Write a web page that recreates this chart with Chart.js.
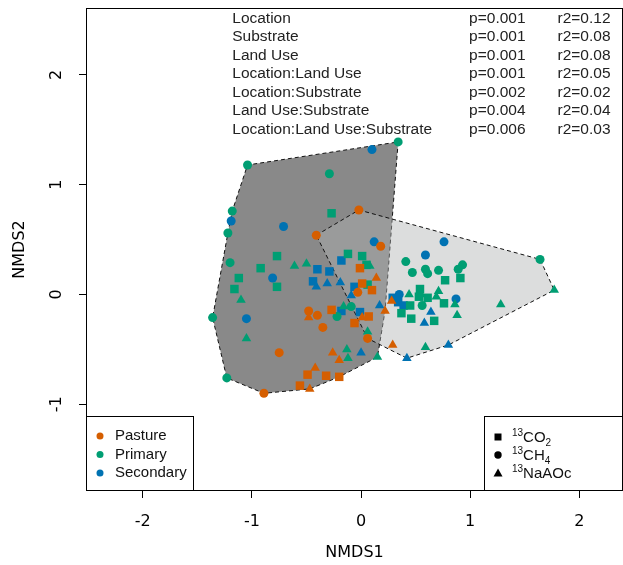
<!DOCTYPE html>
<html>
<head>
<meta charset="utf-8">
<script src="https://cdn.jsdelivr.net/npm/chart.js@4.4.0/dist/chart.umd.min.js"></script>
<style>
  html, body { margin: 0; padding: 0; background: #fff; }
</style>
</head>
<body>
<canvas id="nmdsChart" width="623" height="565"></canvas>
<script>
// axis ticks
const xTicks = [-2, -1, 0, 1, 2];
const yTicks = [-1, 0, 1, 2];

// groups
const landUses = ['Pasture', 'Primary', 'Secondary'];
const substrateLabels = [['13', 'CO', '2'], ['13', 'CH', '4'], ['13', 'NaAOc', '']];

// PERMANOVA results printed on the plot
const terms = ['Location', 'Substrate', 'Land Use', 'Location:Land Use',
  'Location:Substrate', 'Land Use:Substrate', 'Location:Land Use:Substrate'];
const pValues = ['0.001', '0.001', '0.001', '0.001', '0.002', '0.004', '0.006'];
const r2Values = ['0.12', '0.08', '0.08', '0.05', '0.02', '0.04', '0.03'];

// NMDS scores, [NMDS1, NMDS2]
const pastureCO2 = [[-0.01, 0.24], [0.01, 0.10], [0.10, 0.04], [-0.27, -0.14], [0.07, -0.20],
  [-0.06, -0.26], [-0.49, -0.73], [-0.32, -0.74], [-0.20, -0.75], [-0.56, -0.83]];
const pastureCH4 = [[-0.02, 0.77], [-0.41, 0.54], [0.18, 0.44], [-0.03, 0.02], [-0.48, -0.15],
  [-0.40, -0.19], [-0.35, -0.30], [0.06, -0.40], [-0.75, -0.53], [-0.89, -0.90]];
const pastureNaAOc = [[0.14, 0.15], [-0.48, -0.21], [0.01, -0.21], [0.22, -0.15], [-0.26, -0.53],
  [-0.20, -0.60], [-0.42, -0.67], [0.29, -0.46], [-0.47, -0.86], [0.28, -0.06]];
const primaryCO2 = [[-0.27, 0.74], [-0.77, 0.35], [-0.92, 0.24], [-0.12, 0.37], [0.01, 0.35],
  [0.05, 0.27], [-1.12, 0.15], [-1.16, 0.05], [-0.77, 0.07], [0.06, 0.09], [0.77, 0.13],
  [0.91, 0.15], [0.54, 0.05], [0.53, -0.02], [0.61, -0.03], [0.45, -0.10], [0.76, -0.08],
  [0.37, -0.17], [0.46, -0.22], [0.67, -0.24]];
const primaryCH4 = [[0.34, 1.39], [-1.04, 1.18], [-0.29, 1.10], [-1.18, 0.76], [-1.22, 0.56],
  [-1.20, 0.29], [-0.09, -0.11], [-1.36, -0.21], [-0.22, -0.20], [-1.23, -0.76], [0.41, 0.30],
  [0.47, 0.20], [0.59, 0.23], [0.61, 0.19], [0.71, 0.22], [0.93, 0.27], [0.89, 0.23],
  [1.64, 0.32], [0.56, -0.10]];
const primaryNaAOc = [[-0.61, 0.26], [-0.50, 0.28], [0.08, 0.26], [-1.10, -0.05], [-0.16, -0.11],
  [0.06, -0.34], [-1.05, -0.40], [-0.13, -0.50], [-0.12, -0.58], [0.15, -0.57], [1.77, 0.04],
  [0.44, 0.00], [0.55, 0.00], [0.71, 0.03], [0.69, -0.02], [0.86, -0.09], [0.88, -0.19],
  [1.28, -0.09], [0.59, -0.48]];
const secondaryCO2 = [[-0.40, 0.23], [-0.29, 0.21], [-0.18, 0.31], [-0.44, 0.12], [-0.06, 0.07],
  [-0.18, -0.15], [-0.01, -0.16], [0.29, -0.03], [0.34, -0.07], [0.39, -0.10]];
const secondaryCH4 = [[0.10, 1.32], [-1.19, 0.67], [-0.71, 0.62], [0.12, 0.48], [-0.81, 0.15],
  [-1.05, -0.22], [0.76, 0.48], [0.59, 0.36], [0.35, 0.00], [0.87, -0.04]];
const secondaryNaAOc = [[-0.41, 0.07], [-0.31, 0.10], [-0.19, 0.11], [-0.09, -0.01], [0.17, -0.10],
  [0.00, -0.53], [0.42, -0.58], [0.64, -0.16], [0.58, -0.26], [0.80, -0.46]];

// convex hulls of the two locations (closed)
const hullLocationA = [[0.34, 1.39], [0.22, -0.15], [0.15, -0.57], [-0.20, -0.75], [-0.47, -0.86],
  [-0.89, -0.90], [-1.23, -0.76], [-1.36, -0.21], [-1.22, 0.56], [-1.18, 0.76], [-1.04, 1.18],
  [0.34, 1.39]];
const hullLocationB = [[-0.41, 0.54], [-0.02, 0.77], [1.64, 0.32], [1.77, 0.04], [0.80, -0.46],
  [0.42, -0.58], [0.06, -0.40], [-0.41, 0.54]];

const colors = ['#D55E00', '#009E73', '#0072B2'];
const shapes = ['rect', 'circle', 'triangle'];
const radii = { rect: 6, circle: 4.5, triangle: 5.5 };
const groups = [
  [pastureCO2, pastureCH4, pastureNaAOc],
  [primaryCO2, primaryCH4, primaryNaAOc],
  [secondaryCO2, secondaryCH4, secondaryNaAOc]
];

const toXY = arr => arr.map(p => ({ x: p[0], y: p[1] }));

const datasets = [
  {
    label: 'hullA', data: toXY(hullLocationA), showLine: true, fill: 'shape',
    backgroundColor: 'rgb(137,137,137)', borderColor: '#111', borderWidth: 1,
    borderDash: [4, 3], pointRadius: 0, tension: 0, order: 3
  },
  {
    label: 'hullB', data: toXY(hullLocationB), showLine: true, fill: 'shape',
    backgroundColor: 'rgba(176,177,177,0.44)', borderColor: '#111', borderWidth: 1,
    borderDash: [4, 3], pointRadius: 0, tension: 0, order: 2
  }
];
groups.forEach((subs, i) => {
  subs.forEach((pts, j) => {
    datasets.push({
      label: landUses[i] + ' ' + substrateLabels[j].join(''),
      data: toXY(pts),
      pointStyle: shapes[j],
      pointRadius: radii[shapes[j]],
      backgroundColor: colors[i],
      borderWidth: 0,
      showLine: false,
      order: 1
    });
  });
});

// box, rotated y labels, PERMANOVA text, legends
const decorPlugin = {
  id: 'decor',
  afterDraw(chart) {
    const ctx = chart.ctx;
    const a = chart.chartArea;
    const xs = chart.scales.x, ys = chart.scales.y;
    ctx.save();

    // plot box
    ctx.strokeStyle = '#000';
    ctx.lineWidth = 1;
    ctx.strokeRect(a.left + 0.5, a.top + 0.5, a.right - a.left - 1, a.bottom - a.top - 1);

    // y tick labels, rotated as in R
    ctx.fillStyle = '#000';
    ctx.font = '16px "DejaVu Sans"';
    ctx.textAlign = 'center';
    ctx.textBaseline = 'middle';
    yTicks.forEach(v => {
      ctx.save();
      ctx.translate(57, ys.getPixelForValue(v));
      ctx.rotate(-Math.PI / 2);
      ctx.fillText(String(v), 0, 0);
      ctx.restore();
    });

    // PERMANOVA table
    ctx.font = '15.5px "Liberation Sans"';
    ctx.fillStyle = '#222';
    ctx.textAlign = 'left';
    terms.forEach((t, i) => {
      const yy = ys.getPixelForValue(2.515 - i * 0.169);
      ctx.fillText(t, xs.getPixelForValue(-1.18), yy);
      ctx.fillText('p=' + pValues[i], xs.getPixelForValue(0.99), yy);
      ctx.fillText('r2=' + r2Values[i], xs.getPixelForValue(1.80), yy);
    });

    // land use legend (bottom left)
    const lw = 107, lh = 75;
    ctx.fillStyle = '#fff';
    ctx.fillRect(a.left, a.bottom - lh, lw, lh);
    ctx.strokeRect(a.left + 0.5, a.bottom - lh + 0.5, lw, lh - 1);
    landUses.forEach((name, i) => {
      const yy = a.bottom - 55 + i * 18.5;
      ctx.fillStyle = colors[i];
      ctx.beginPath();
      ctx.arc(a.left + 14, yy, 3.5, 0, Math.PI * 2);
      ctx.fill();
      ctx.fillStyle = '#111';
      ctx.font = '15px "Liberation Sans"';
      ctx.fillText(name, a.left + 29, yy);
    });

    // substrate legend (bottom right)
    const rw = 139;
    const rx = a.right - rw;
    ctx.fillStyle = '#fff';
    ctx.fillRect(rx, a.bottom - lh, rw, lh);
    ctx.strokeRect(rx + 0.5, a.bottom - lh + 0.5, rw - 1, lh - 1);
    substrateLabels.forEach((lab, i) => {
      const yy = a.bottom - 54 + i * 18;
      const mx = rx + 14;
      ctx.fillStyle = '#000';
      ctx.beginPath();
      if (shapes[i] === 'rect') {
        ctx.rect(mx - 3.5, yy - 3.5, 7, 7);
      } else if (shapes[i] === 'circle') {
        ctx.arc(mx, yy, 3.7, 0, Math.PI * 2);
      } else {
        ctx.moveTo(mx, yy - 4.5);
        ctx.lineTo(mx + 4.5, yy + 3.5);
        ctx.lineTo(mx - 4.5, yy + 3.5);
        ctx.closePath();
      }
      ctx.fill();
      let tx = rx + 28;
      ctx.fillStyle = '#111';
      ctx.font = '10px "Liberation Sans"';
      ctx.fillText(lab[0], tx, yy - 4);
      tx += ctx.measureText(lab[0]).width;
      ctx.font = '15px "Liberation Sans"';
      ctx.fillText(lab[1], tx, yy + 1);
      tx += ctx.measureText(lab[1]).width;
      if (lab[2]) {
        ctx.font = '10px "Liberation Sans"';
        ctx.fillText(lab[2], tx, yy + 6);
      }
    });
    ctx.restore();
  }
};

const axisFont = { family: 'DejaVu Sans', size: 16 };

new Chart(document.getElementById('nmdsChart').getContext('2d'), {
  type: 'scatter',
  data: { datasets: datasets },
  options: {
    responsive: false,
    animation: false,
    devicePixelRatio: 1,
    layout: { autoPadding: false, padding: { top: 8, right: 0, left: 0, bottom: 0 } },
    plugins: { legend: { display: false }, tooltip: { enabled: false } },
    scales: {
      x: {
        type: 'linear', min: -2.52, max: 2.40,
        afterBuildTicks: s => { s.ticks = xTicks.map(v => ({ value: v })); },
        afterFit: s => { s.height = 74; s.paddingLeft = 0; s.paddingRight = 0; },
        grid: { drawOnChartArea: false, drawTicks: true, tickLength: 7, color: '#000' },
        border: { display: false },
        ticks: { color: '#000', font: axisFont, padding: 14, maxRotation: 0, callback: v => String(v) },
        title: { display: true, text: 'NMDS1', color: '#000', font: axisFont, padding: { top: 0, bottom: 3 } }
      },
      y: {
        type: 'linear', min: -1.79, max: 2.61,
        afterBuildTicks: s => { s.ticks = yTicks.map(v => ({ value: v })); },
        afterFit: s => { s.width = 86; s.paddingTop = 0; s.paddingBottom = 0; },
        grid: { drawOnChartArea: false, drawTicks: true, tickLength: 7, color: '#000' },
        border: { display: false },
        ticks: { display: false },
        title: { display: true, text: 'NMDS2', color: '#000', font: axisFont, padding: { top: 10, bottom: 0 } }
      }
    }
  },
  plugins: [decorPlugin]
});
</script>
</body>
</html>
